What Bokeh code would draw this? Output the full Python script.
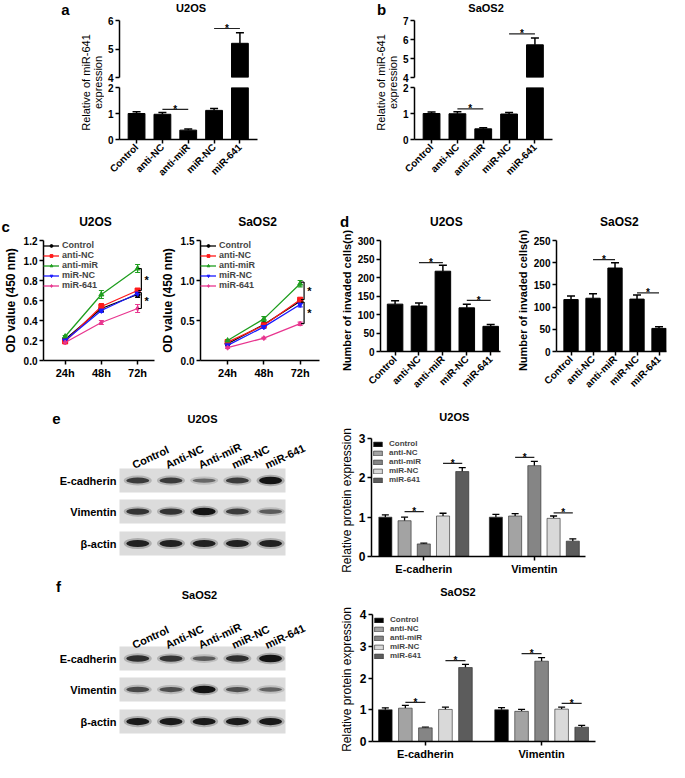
import math
from bokeh.plotting import figure
from bokeh.models import (Range1d, FixedTicker, Whisker, TeeHead, Spacer,
                          ColumnDataSource, NumeralTickFormatter)
from bokeh.layouts import row, column
from bokeh.embed import file_html
from bokeh.resources import INLINE
from bokeh.core.properties import value

FONT = "Liberation Sans"

# ---------------- data ----------------
groups = ["Control", "anti-NC", "anti-miR", "miR-NC", "miR-641"]
blot_lanes = ["Control", "Anti-NC", "Anti-miR", "miR-NC", "miR-641"]
proteins = ["E-cadherin", "Vimentin"]
blot_rows = ["E-cadherin", "Vimentin", "\u03b2-actin"]

# a: U2OS relative miR-641 expression
a_vals = [1.00, 0.97, 0.36, 1.12, 5.20]
a_errs = [0.07, 0.07, 0.04, 0.07, 0.37]
a_sig = [(1, 2, 1.16), (3, 4, 5.72)]
# b: SaOS2
b_vals = [1.00, 0.99, 0.41, 0.98, 5.72]
b_errs = [0.06, 0.08, 0.04, 0.06, 0.36]
b_sig = [(1, 2, 1.18), (3, 4, 6.30)]

# c: OD value (450 nm)
hours = [24, 48, 72]
hour_labels = ["24h", "48h", "72h"]
c_u2os_control = [0.21, 0.52, 0.66]
c_u2os_antinc = [0.19, 0.54, 0.70]
c_u2os_antimir = [0.24, 0.66, 0.92]
c_u2os_mirnc = [0.20, 0.50, 0.67]
c_u2os_mir641 = [0.18, 0.38, 0.52]
c_u2os_err = [[0.01, 0.03, 0.03], [0.01, 0.03, 0.02], [0.01, 0.04, 0.04],
              [0.01, 0.02, 0.02], [0.01, 0.02, 0.04]]
c_u2os_brackets = [(0.92, 0.70), (0.68, 0.52)]
c_saos2_control = [0.21, 0.45, 0.74]
c_saos2_antinc = [0.23, 0.44, 0.76]
c_saos2_antimir = [0.25, 0.52, 0.96]
c_saos2_mirnc = [0.19, 0.42, 0.70]
c_saos2_mir641 = [0.16, 0.28, 0.46]
c_saos2_err = [[0.01, 0.02, 0.02], [0.01, 0.02, 0.02], [0.01, 0.03, 0.04],
               [0.01, 0.02, 0.03], [0.01, 0.01, 0.02]]
c_saos2_brackets = [(0.98, 0.76), (0.73, 0.46)]

# d: number of invaded cells
d_u2os_vals = [128, 123, 217, 118, 68]
d_u2os_errs = [9, 8, 16, 10, 5]
d_u2os_sig = [(1, 2, 240), (3, 4, 138)]
d_saos2_vals = [117, 120, 188, 118, 52]
d_saos2_errs = [8, 10, 12, 9, 4]
d_saos2_sig = [(1, 2, 207), (3, 4, 132)]

# e/f: western blot band strength (relative, 0-1)
e_band_ecad = [0.70, 0.70, 0.35, 0.70, 1.00]
e_band_vim = [0.75, 0.75, 1.00, 0.70, 0.45]
e_band_actin = [0.90, 0.90, 0.90, 0.90, 0.90]
f_band_ecad = [0.80, 0.75, 0.45, 0.80, 1.00]
f_band_vim = [0.60, 0.55, 1.00, 0.55, 0.40]
f_band_actin = [0.95, 0.95, 0.95, 0.95, 0.95]

# e/f: relative protein expression
e_ecad = [1.00, 0.91, 0.32, 1.03, 2.16]
e_ecad_err = [0.06, 0.09, 0.02, 0.07, 0.10]
e_vim = [1.00, 1.03, 2.31, 0.97, 0.39]
e_vim_err = [0.07, 0.06, 0.11, 0.06, 0.06]
e_sig = [[(1, 2, 1.14), (3, 4, 2.37)], [(1, 2, 2.52), (3, 4, 1.11)]]
f_ecad = [1.00, 1.05, 0.43, 1.01, 2.33]
f_ecad_err = [0.06, 0.09, 0.02, 0.07, 0.10]
f_vim = [1.00, 0.95, 2.53, 1.02, 0.45]
f_vim_err = [0.07, 0.06, 0.11, 0.06, 0.06]
f_sig = [[(1, 2, 1.23), (3, 4, 2.55)], [(1, 2, 2.77), (3, 4, 1.20)]]

line_colors = ["#000000", "#ff1a1a", "#1f9e1f", "#1a1aff", "#e8368f"]
line_markers = ["circle", "square", "triangle", "inverted_triangle", "diamond"]
bar_grays = ["#000000", "#a3a3a3", "#858585", "#d9d9d9", "#5c5c5c"]


# ---------------- helpers ----------------
def base_fig(w, h, xr, yr, bl, br, bt, bb, xaxis=True, yaxis=True):
    p = figure(width=w, height=h, x_range=xr, y_range=yr, title=None,
               min_border_left=bl, min_border_right=br,
               min_border_top=bt, min_border_bottom=bb,
               toolbar_location=None, tools="", output_backend="svg",
               x_axis_location="below" if xaxis else None,
               y_axis_location="left" if yaxis else None)
    p.outline_line_color = None
    p.grid.visible = False
    p.background_fill_color = "white"
    p.border_fill_color = "white"
    for ax in p.axis:
        ax.axis_line_width = 1.5
        ax.axis_line_color = "black"
        ax.major_tick_line_width = 1.5
        ax.major_tick_out = 4
        ax.major_tick_in = 0
        ax.minor_tick_out = 0
        ax.minor_tick_in = 0
        ax.major_label_text_font = FONT
        ax.major_label_text_font_style = "bold"
        ax.major_label_text_font_size = "10px"
        ax.major_label_text_color = "black"
        ax.major_label_standoff = 2
        ax.axis_label_text_font = FONT
        ax.axis_label_text_font_style = "bold"
        ax.axis_label_text_font_size = "11px"
        ax.axis_label_text_color = "black"
        ax.axis_label_standoff = 3
    return p


def canvas_fig(w, h):
    p = figure(width=w, height=h, x_range=Range1d(0, w), y_range=Range1d(h, 0), title=None,
               min_border_left=0, min_border_right=0, min_border_top=0, min_border_bottom=0,
               toolbar_location=None, tools="", output_backend="svg",
               x_axis_location=None, y_axis_location=None)
    p.outline_line_color = None
    p.grid.visible = False
    p.background_fill_color = "white"
    p.border_fill_color = "white"
    return p


def ctext(p, x, y, t, size, bold=True, angle=0, align="center", baseline="middle"):
    p.text(x=[x], y=[y], text=[t], angle=angle, text_font=value(FONT),
           text_font_size=size, text_font_style="bold" if bold else "normal",
           text_align=align, text_baseline=baseline, text_color="black")


def sig_mark(p, x0, x1, y, size="10px"):
    p.segment(x0=[x0], x1=[x1], y0=[y], y1=[y], line_width=1.2, line_color="#222222")
    p.text(x=[(x0 + x1) / 2], y=[y], text=["*"], text_font=value(FONT),
           text_font_size=size, text_font_style="bold", text_align="center",
           text_baseline="alphabetic", text_color="black")


def bar_whiskers(p, xs, lows, highs, color="black", size=8, lw=1.5):
    src = ColumnDataSource(dict(x=xs, lo=lows, hi=highs))
    p.add_layout(Whisker(source=src, base="x", lower="lo", upper="hi", line_width=lw,
                         line_color=color, lower_head=None,
                         upper_head=TeeHead(size=size, line_width=lw, line_color=color)))


def gutter(w, h, label, lx, ly, size="11px", bold=True, letter=None, letter_xy=None):
    g = canvas_fig(w, h)
    ctext(g, lx, ly, label, size, bold=bold, angle=math.pi / 2)
    if letter:
        ctext(g, letter_xy[0], letter_xy[1], letter, "15px")
    return g


# ---------------- row 1: panels a, b (broken y axis) ----------------
ROW1_H = 184


def broken_panel(vals, errs, sig, up_range, up_ticks, lo_range, lo_ticks, title):
    xr = (-0.66, 4.68)
    hdr = canvas_fig(160, 14)
    ctext(hdr, 83, 7.5, title, "11px")
    up = base_fig(160, 68, Range1d(*xr), Range1d(*up_range), 13, 7, 6, 5, xaxis=False)
    lo = base_fig(160, 102, Range1d(*xr), Range1d(*lo_range), 13, 7, 5, 40)
    idx = list(range(len(groups)))
    for p, (y0, y1) in ((up, up_range), (lo, lo_range)):
        sel = [i for i in idx if vals[i] > y0]
        p.vbar(x=sel, bottom=y0, top=[vals[i] for i in sel], width=0.65,
               fill_color="black", line_color="black")
        wsel = [i for i in idx if y0 <= vals[i] + errs[i] <= y1]
        bar_whiskers(p, wsel, [vals[i] for i in wsel], [vals[i] + errs[i] for i in wsel])
        for (i, j, hgt) in sig:
            if y0 <= hgt <= y1:
                sig_mark(p, i, j, hgt)
    up.yaxis.ticker = FixedTicker(ticks=up_ticks)
    lo.yaxis.ticker = FixedTicker(ticks=lo_ticks)
    lo.xaxis.ticker = FixedTicker(ticks=idx)
    lo.xaxis.major_label_overrides = {i: g for i, g in enumerate(groups)}
    lo.xaxis.major_label_orientation = math.pi / 4
    return column(hdr, up, lo)


col_a = broken_panel(a_vals, a_errs, a_sig, (4, 6), [4, 5, 6], (0, 2), [0, 1, 2], "U2OS")
col_b = broken_panel(b_vals, b_errs, b_sig, (4, 7), [4, 5, 6, 7], (0, 2), [0, 1, 2], "SaOS2")

gut_a = canvas_fig(54, ROW1_H)
ctext(gut_a, 15, 9, "a", "15px")
ctext(gut_a, 35, 82, "Relative of miR-641", "11px", bold=False, angle=math.pi / 2)
ctext(gut_a, 47, 82, "expression", "11px", bold=False, angle=math.pi / 2)

gut_b = canvas_fig(28, ROW1_H)
ctext(gut_b, 10, 9, "b", "15px")
ctext(gut_b, 9, 82, "Relative of miR-641", "11px", bold=False, angle=math.pi / 2)
ctext(gut_b, 21, 82, "expression", "11px", bold=False, angle=math.pi / 2)

row1 = row(Spacer(width=50, height=ROW1_H), gut_a, col_a, Spacer(width=107, height=ROW1_H),
           gut_b, col_b, Spacer(width=110, height=ROW1_H))


# ---------------- row 2: panels c, d ----------------
HDR2 = 50


def line_panel(w, bl, br, xr, y_end, yticks, series, errs, brackets, bx):
    p = base_fig(w, 162, Range1d(*xr), Range1d(0, y_end), bl, br, 6, 36)
    p.xaxis.ticker = FixedTicker(ticks=hours)
    p.xaxis.major_label_overrides = {h: t for h, t in zip(hours, hour_labels)}
    p.yaxis.ticker = FixedTicker(ticks=yticks)
    p.yaxis.formatter = NumeralTickFormatter(format="0.0")
    p.yaxis.axis_label = "OD value (450 nm)"
    p.yaxis.axis_label_text_font_size = "12px"
    p.xaxis.major_label_text_font_size = "11px"
    for k, name in enumerate(groups):
        vals = series[k]
        col = line_colors[k]
        p.line(hours, vals, line_color=col, line_width=1.3, legend_label=name)
        p.scatter(hours, vals, marker=line_markers[k], size=5, fill_color=col,
                  line_color=col, legend_label=name)
        src = ColumnDataSource(dict(x=hours, lo=[v - e for v, e in zip(vals, errs[k])],
                                    hi=[v + e for v, e in zip(vals, errs[k])]))
        p.add_layout(Whisker(source=src, base="x", lower="lo", upper="hi", line_color=col,
                             line_width=1.2,
                             lower_head=TeeHead(size=5, line_color=col, line_width=1.2),
                             upper_head=TeeHead(size=5, line_color=col, line_width=1.2)))
    for (ytop, ybot) in brackets:
        p.segment(x0=[bx, bx - 2, bx - 2], x1=[bx, bx, bx], y0=[ytop, ytop, ybot],
                  y1=[ybot, ytop, ybot], line_color="black", line_width=1.2)
        p.text(x=[bx + 3.5], y=[(ytop + ybot) / 2], text=["*"], text_font=value(FONT),
               text_font_size="11px", text_font_style="bold", text_align="center",
               text_baseline="middle", text_color="black")
    lg = p.legend[0]
    lg.location = "top_left"
    lg.margin = 0
    lg.padding = 0
    lg.spacing = 0
    lg.glyph_height = 7
    lg.glyph_width = 16
    lg.label_height = 7
    lg.label_standoff = 3
    lg.label_text_font = FONT
    lg.label_text_font_style = "bold"
    lg.label_text_font_size = "9px"
    lg.border_line_color = None
    lg.background_fill_alpha = 0
    return p


c1 = line_panel(157, 36, 3, (9.66, 83.2), 1.2, [0, 0.2, 0.4, 0.6, 0.8, 1.0, 1.2],
                [c_u2os_control, c_u2os_antinc, c_u2os_antimir, c_u2os_mirnc, c_u2os_mir641],
                c_u2os_err, c_u2os_brackets, 74.5)
c2 = line_panel(177, 39, 15, (6.08, 84.8), 1.5, [0, 0.5, 1.0, 1.5],
                [c_saos2_control, c_saos2_antinc, c_saos2_antimir, c_saos2_mirnc, c_saos2_mir641],
                c_saos2_err, c_saos2_brackets, 74.6)
hdr_c = canvas_fig(334, HDR2)
ctext(hdr_c, 1, 42, "c", "15px", align="left")
ctext(hdr_c, 95, 37, "U2OS", "12px")
ctext(hdr_c, 257, 37, "SaOS2", "12px")
part_c = column(hdr_c, row(c1, c2))


def bar_panel(w, bl, br, xr, y_end, yticks, vals, errs, sig):
    p = base_fig(w, 162, Range1d(*xr), Range1d(0, y_end), bl, br, 6, 37)
    idx = list(range(len(groups)))
    p.vbar(x=idx, top=vals, width=0.65, fill_color="black", line_color="black")
    bar_whiskers(p, idx, vals, [v + e for v, e in zip(vals, errs)], size=8)
    for (i, j, hgt) in sig:
        sig_mark(p, i, j, hgt)
    p.xaxis.ticker = FixedTicker(ticks=idx)
    p.xaxis.major_label_overrides = {i: g for i, g in enumerate(groups)}
    p.xaxis.major_label_orientation = math.pi / 4
    p.yaxis.ticker = FixedTicker(ticks=yticks)
    return p


d1 = bar_panel(154, 23, 8, (-0.61, 4.41), 300, [0, 50, 100, 150, 200, 250, 300],
               d_u2os_vals, d_u2os_errs, d_u2os_sig)
d2 = bar_panel(139, 23, 3, (-0.66, 4.34), 250, [0, 50, 100, 150, 200, 250],
               d_saos2_vals, d_saos2_errs, d_saos2_sig)
hdr_d1 = canvas_fig(154, HDR2)
ctext(hdr_d1, 84.5, 37, "U2OS", "12px")
hdr_d2 = canvas_fig(139, HDR2)
ctext(hdr_d2, 79.5, 37, "SaOS2", "12px")
gut_d1 = gutter(20, HDR2 + 162, "Number of invaded cells(n)", 12, HDR2 + 6 + 60,
                letter="d", letter_xy=(10, 37))
gut_d2 = gutter(22, HDR2 + 162, "Number of invaded cells(n)", 14.5, HDR2 + 6 + 60)

row2 = row(part_c, gut_d1, column(hdr_d1, d1), gut_d2, column(hdr_d2, d2))


# ---------------- rows 3/4: blots and protein bars ----------------
def blot_panel(h, letter, letter_xy, title, title_xy, lane_y, row_ys, bands):
    p = canvas_fig(332, h)
    ctext(p, letter_xy[0], letter_xy[1], letter, "15px")
    ctext(p, title_xy[0], title_xy[1], title, "11px")
    box_l, box_w, box_h = 119, 166, 24
    lane_xs = [box_l + box_w * (i + 0.55) / 5 for i in range(5)]
    for r, name in enumerate(blot_rows):
        yc = row_ys[r]
        p.rect(x=[box_l + box_w / 2], y=[yc], width=box_w, height=box_h,
               fill_color="#dcdcdc", line_color=None)
        ctext(p, box_l - 3, yc, name, "11px", align="right")
        strengths = bands[r]
        hts = [2.5 + 5.0 * s for s in strengths]
        grays = ["#%02x%02x%02x" % ((int(150 - 130 * s),) * 3) for s in strengths]
        p.ellipse(x=lane_xs, y=[yc] * 5, width=28, height=[hh + 4 for hh in hts],
                  width_units="screen", height_units="screen",
                  fill_color=grays, fill_alpha=0.25, line_color=None)
        p.ellipse(x=lane_xs, y=[yc] * 5, width=23, height=hts,
                  width_units="screen", height_units="screen",
                  fill_color=grays, line_color=None)
    for i, lab in enumerate(blot_lanes):
        ctext(p, lane_xs[i] - 5, lane_y, lab, "11px", angle=0.44, align="left",
              baseline="alphabetic")
    return p


def protein_panel(w, h, hdr_h, br, bb, unit, gap, xr, y_end, yticks, ecad, ecad_err,
                  vim, vim_err, sig, title, title_xy):
    hdr = canvas_fig(w, hdr_h)
    ctext(hdr, title_xy[0], title_xy[1], title, "11px")
    p = base_fig(w, h - hdr_h, Range1d(*xr), Range1d(0, y_end), 13, br, 6, bb)
    for k, name in enumerate(groups):
        xs = [k * unit, gap + k * unit]
        tops = [ecad[k], vim[k]]
        p.vbar(x=xs, top=tops, width=0.68 * unit, fill_color=bar_grays[k],
               line_color="#222222", line_width=0.6, legend_label=name)
        bar_whiskers(p, xs, tops, [ecad[k] + ecad_err[k], vim[k] + vim_err[k]], size=7,
                     lw=1.3)
    for g in range(2):
        for (i, j, hgt) in sig[g]:
            sig_mark(p, g * gap + i * unit, g * gap + j * unit, hgt)
    ticks = [2 * unit, gap + 2 * unit]
    p.xaxis.ticker = FixedTicker(ticks=ticks)
    p.xaxis.major_label_overrides = {t: name for t, name in zip(ticks, proteins)}
    p.xaxis.major_label_text_font_size = "11px"
    p.yaxis.ticker = FixedTicker(ticks=yticks)
    p.yaxis.major_label_text_font_size = "12px"
    lg = p.legend[0]
    lg.location = "top_left"
    lg.margin = 1
    lg.padding = 0
    lg.spacing = 0
    lg.glyph_height = 6
    lg.glyph_width = 11
    lg.label_height = 7
    lg.label_standoff = 6
    lg.label_text_font = FONT
    lg.label_text_font_style = "bold"
    lg.label_text_font_size = "8px"
    lg.border_line_color = None
    lg.background_fill_alpha = 0
    return column(hdr, p)


blot_e = blot_panel(181, "e", (56, 22), "U2OS", (202, 22), 69, [84, 115, 147],
                    [e_band_ecad, e_band_vim, e_band_actin])
gut_e = gutter(23, 181, "Relative protein expression", 14, 104, size="12px", bold=False)
prot_e = protein_panel(314, 181, 36, 84, 15, 4, 23, (-2.88, 41.64), 3, [0, 1, 2, 3],
                       e_ecad, e_ecad_err, e_vim, e_vim_err, e_sig, "U2OS", (121.5, 20))
row3 = row(blot_e, gut_e, prot_e)

blot_f = blot_panel(185, "f", (58, 9), "SaOS2", (199, 17), 68, [81, 112, 144],
                    [f_band_ecad, f_band_vim, f_band_actin])
gut_f = gutter(24, 185, "Relative protein expression", 14, 102, size="12px", bold=False)
prot_f = protein_panel(313, 185, 31, 74, 18, 5, 29, (-3.2, 52.45), 4, [0, 1, 2, 3, 4],
                       f_ecad, f_ecad_err, f_vim, f_vim_err, f_sig, "SaOS2", (120, 14))
row4 = row(blot_f, gut_f, prot_f)

layout = column(row1, row2, row3, row4)

with open("out.html", "w") as fh:
    fh.write(file_html(layout, INLINE, title="miR-641 figure"))
